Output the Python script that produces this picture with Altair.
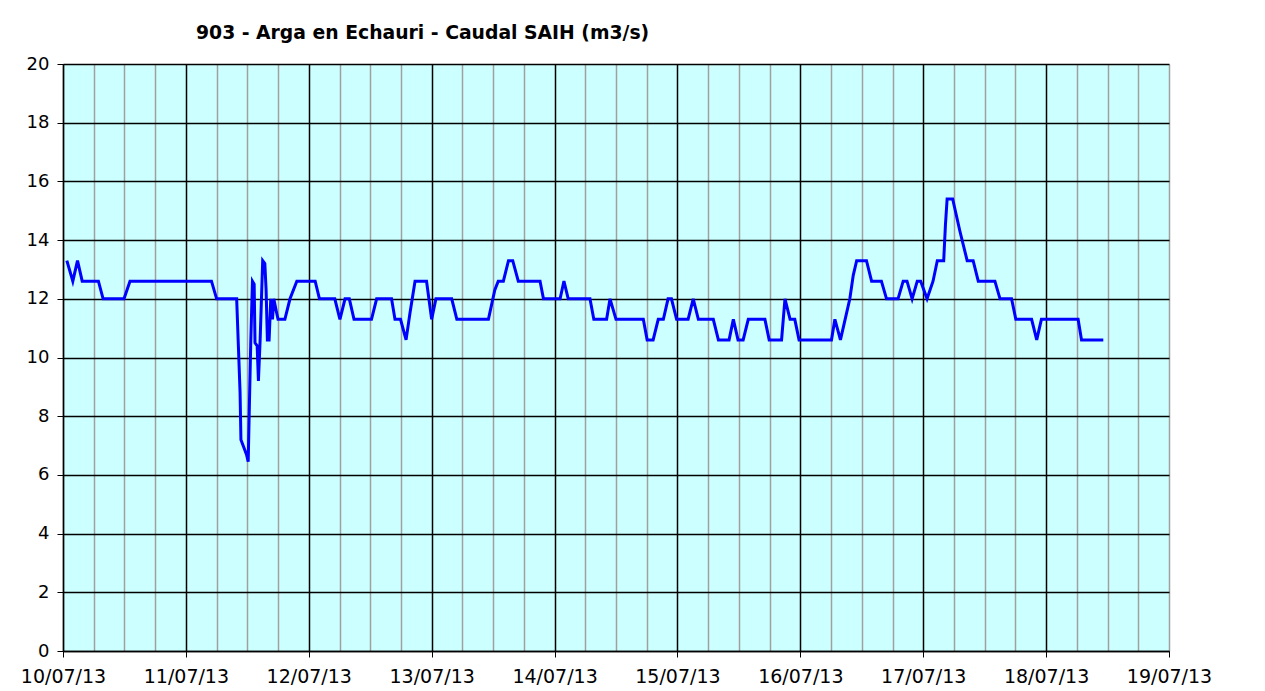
import altair as alt
import pandas as pd

TITLE = "903 - Arga en Echauri - Caudal SAIH (m3/s)"

times = [
    "2013-07-10T00:45", "2013-07-10T01:55", "2013-07-10T02:50", "2013-07-10T03:45",
    "2013-07-10T06:55", "2013-07-10T07:50", "2013-07-10T11:55", "2013-07-10T13:05",
    "2013-07-11T05:00", "2013-07-11T06:00", "2013-07-11T09:55", "2013-07-11T10:15",
    "2013-07-11T10:35", "2013-07-11T10:45", "2013-07-11T11:50", "2013-07-11T12:10",
    "2013-07-11T12:25", "2013-07-11T12:40", "2013-07-11T13:00", "2013-07-11T13:20",
    "2013-07-11T13:30", "2013-07-11T13:55", "2013-07-11T14:10", "2013-07-11T14:30",
    "2013-07-11T15:00", "2013-07-11T15:25", "2013-07-11T15:40", "2013-07-11T15:55",
    "2013-07-11T16:15", "2013-07-11T16:35", "2013-07-11T16:55", "2013-07-11T17:10",
    "2013-07-11T17:45", "2013-07-11T18:00", "2013-07-11T19:20", "2013-07-11T20:20",
    "2013-07-11T21:40", "2013-07-12T01:15", "2013-07-12T02:05", "2013-07-12T05:05",
    "2013-07-12T06:05", "2013-07-12T07:05", "2013-07-12T07:55", "2013-07-12T08:50",
    "2013-07-12T12:15", "2013-07-12T13:15", "2013-07-12T16:10", "2013-07-12T16:50",
    "2013-07-12T17:55", "2013-07-12T19:00", "2013-07-12T19:45", "2013-07-12T20:45",
    "2013-07-12T23:00", "2013-07-13T00:00", "2013-07-13T00:50", "2013-07-13T03:55",
    "2013-07-13T04:55", "2013-07-13T11:05", "2013-07-13T12:20", "2013-07-13T13:00",
    "2013-07-13T14:00", "2013-07-13T15:00", "2013-07-13T15:50", "2013-07-13T16:55",
    "2013-07-13T21:10", "2013-07-13T21:50", "2013-07-14T01:05", "2013-07-14T01:50",
    "2013-07-14T02:40", "2013-07-14T06:55", "2013-07-14T07:40", "2013-07-14T10:10",
    "2013-07-14T10:50", "2013-07-14T12:00", "2013-07-14T17:20", "2013-07-14T18:05",
    "2013-07-14T19:15", "2013-07-14T20:15", "2013-07-14T21:15", "2013-07-14T22:10",
    "2013-07-14T22:50", "2013-07-14T23:50", "2013-07-15T02:05", "2013-07-15T03:05",
    "2013-07-15T04:05", "2013-07-15T07:00", "2013-07-15T08:00", "2013-07-15T10:05",
    "2013-07-15T10:55", "2013-07-15T11:50", "2013-07-15T12:50", "2013-07-15T13:50",
    "2013-07-15T17:05", "2013-07-15T17:55", "2013-07-15T20:20", "2013-07-15T21:00",
    "2013-07-15T22:00", "2013-07-15T22:55", "2013-07-15T23:45", "2013-07-16T06:05",
    "2013-07-16T06:45", "2013-07-16T07:50", "2013-07-16T08:45", "2013-07-16T09:40",
    "2013-07-16T10:20", "2013-07-16T11:00", "2013-07-16T12:55", "2013-07-16T13:55",
    "2013-07-16T15:50", "2013-07-16T16:50", "2013-07-16T19:05", "2013-07-16T20:05",
    "2013-07-16T20:50", "2013-07-16T21:50", "2013-07-16T22:50", "2013-07-16T23:30",
    "2013-07-17T00:45", "2013-07-17T01:55", "2013-07-17T02:45", "2013-07-17T04:00",
    "2013-07-17T04:20", "2013-07-17T04:40", "2013-07-17T05:45", "2013-07-17T07:10",
    "2013-07-17T08:35", "2013-07-17T09:45", "2013-07-17T10:45", "2013-07-17T14:00",
    "2013-07-17T15:00", "2013-07-17T17:15", "2013-07-17T18:05", "2013-07-17T21:10",
    "2013-07-17T22:10", "2013-07-17T23:05", "2013-07-18T06:15", "2013-07-18T06:55",
    "2013-07-18T11:10",
]

flow = [
    13.3, 12.6, 13.3, 12.6,
    12.6, 12.0, 12.0, 12.6,
    12.6, 12.0, 12.0, 10.4,
    8.8, 7.2, 6.7, 6.45,
    8.5, 10.5, 12.6, 12.5,
    10.5, 10.4, 9.2, 10.6,
    13.3, 13.2, 12.3, 10.6,
    10.6, 12.0, 11.3, 12.0,
    11.5, 11.3, 11.3, 12.0,
    12.6, 12.6, 12.0, 12.0,
    11.3, 12.0, 12.0, 11.3,
    11.3, 12.0, 12.0, 11.3,
    11.3, 10.6, 11.5, 12.6,
    12.6, 11.3, 12.0, 12.0,
    11.3, 11.3, 12.3, 12.6,
    12.6, 13.3, 13.3, 12.6,
    12.6, 12.0, 12.0, 12.6,
    12.0, 12.0, 11.3, 11.3,
    12.0, 11.3, 11.3, 10.6,
    10.6, 11.3, 11.3, 12.0,
    12.0, 11.3, 11.3, 12.0,
    11.3, 11.3, 10.6, 10.6,
    11.3, 10.6, 10.6, 11.3,
    11.3, 10.6, 10.6, 12.0,
    11.3, 11.3, 10.6, 10.6,
    11.3, 10.6, 11.3, 12.0,
    12.8, 13.3, 13.3, 12.6,
    12.6, 12.0, 12.0, 12.6,
    12.6, 12.0, 12.6, 12.6,
    12.0, 12.6, 13.3, 13.3,
    14.5, 15.4, 15.4, 14.3,
    13.3, 13.3, 12.6, 12.6,
    12.0, 12.0, 11.3, 11.3,
    10.6, 11.3, 11.3, 10.6,
    10.6,
]

y_ticks = [0, 2, 4, 6, 8, 10, 12, 14, 16, 18, 20]

df = pd.DataFrame({"fecha": times, "caudal": flow})

FONT = "DejaVu Sans"
MIDNIGHT = "hours(datum.value) === 0"

x_axis = alt.Axis(
    title=None,
    format="%d/%m/%y",
    labelExpr=MIDNIGHT + " ? datum.label : ''",
    labelOverlap=False,
    labelFlush=False,
    labelFont=FONT,
    labelFontSize=19,
    labelColor="#000000",
    labelPadding=10,
    tickSize=6,
    tickColor="#000000",
    tickOpacity={"condition": {"test": MIDNIGHT, "value": 1}, "value": 0},
    domainColor="#000000",
    domainWidth=1.3,
    grid=True,
    gridColor={
        "condition": {"test": MIDNIGHT + " && date(datum.value) !== 19", "value": "#000000"},
        "value": "#A0A0A0",
    },
    gridWidth=1.5,
)

y_axis = alt.Axis(
    title=None,
    values=y_ticks,
    labelFont=FONT,
    labelFontSize=18,
    labelColor="#000000",
    labelPadding=8,
    tickSize=6,
    tickColor="#000000",
    domainColor="#000000",
    domainWidth=1.3,
    grid=True,
    gridColor="#000000",
    gridWidth=1.4,
)

chart = (
    alt.Chart(df)
    .mark_line(color="#0000FF", strokeWidth=3)
    .encode(
        x=alt.X(
            "fecha:T",
            scale=alt.Scale(
                domain=[
                    alt.DateTime(year=2013, month=7, date=10),
                    alt.DateTime(year=2013, month=7, date=19),
                ],
                nice=False,
            ),
            axis=x_axis,
        ),
        y=alt.Y("caudal:Q", scale=alt.Scale(domain=[0, 20], nice=False), axis=y_axis),
    )
    .properties(
        width=1106,
        height=587,
        title=alt.TitleParams(
            text=TITLE,
            anchor="start",
            frame="group",
            dx=133,
            offset=12,
            font=FONT,
            fontSize=18.8,
            fontWeight="bold",
            color="#000000",
        ),
        autosize=alt.AutoSizeParams(type="none"),
        padding={"left": 55, "top": 56, "right": 60, "bottom": 36},
    )
    .configure_view(fill="#CCFFFF", strokeWidth=0)
)

chart.save("out.html", embed_options={"renderer": "svg", "actions": False})
